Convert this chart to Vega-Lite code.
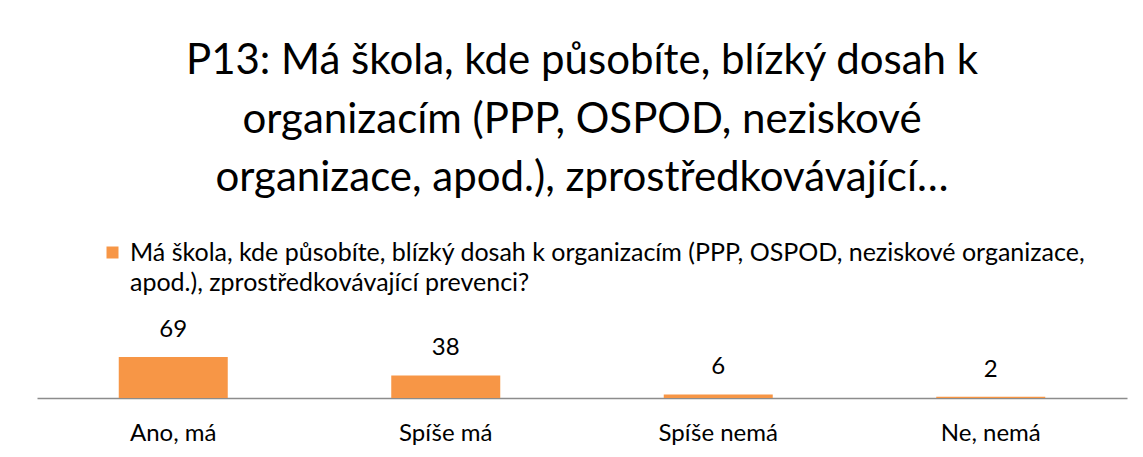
{
  "$schema": "https://vega.github.io/schema/vega-lite/v6.json",
  "autosize": {"type": "none"},
  "width": 1090,
  "height": 41,
  "padding": {"left": 37, "top": 357, "right": 16, "bottom": 59},
  "background": "white",
  "title": {
    "text": ["P13: Má škola, kde působíte, blízký dosah k", "organizacím (PPP, OSPOD, neziskové", "organizace, apod.), zprostředkovávající…"],
    "font": "Lato",
    "fontSize": 42,
    "fontWeight": "normal",
    "color": "black",
    "anchor": "middle",
    "lineHeight": 58.5,
    "offset": 40
  },
  "data": {
    "values": [
      {"odpoved": "Ano, má", "pocet": 69, "serie": "Má škola, kde působíte, blízký dosah k organizacím (PPP, OSPOD, neziskové organizace, apod.), zprostředkovávající prevenci?"},
      {"odpoved": "Spíše má", "pocet": 38, "serie": "Má škola, kde působíte, blízký dosah k organizacím (PPP, OSPOD, neziskové organizace, apod.), zprostředkovávající prevenci?"},
      {"odpoved": "Spíše nemá", "pocet": 6, "serie": "Má škola, kde působíte, blízký dosah k organizacím (PPP, OSPOD, neziskové organizace, apod.), zprostředkovávající prevenci?"},
      {"odpoved": "Ne, nemá", "pocet": 2, "serie": "Má škola, kde působíte, blízký dosah k organizacím (PPP, OSPOD, neziskové organizace, apod.), zprostředkovávající prevenci?"}
    ]
  },
  "encoding": {
    "x": {
      "field": "odpoved",
      "type": "nominal",
      "sort": null,
      "scale": {"paddingInner": 0.6, "paddingOuter": 0.3},
      "axis": {
        "title": null,
        "labelAngle": 0,
        "ticks": false,
        "labelFont": "Lato",
        "labelFontSize": 24,
        "labelColor": "black",
        "labelPadding": 42,
        "labelBaseline": "alphabetic",
        "domainColor": "#8c8c8c",
        "domainWidth": 1.5,
        "grid": false
      }
    },
    "y": {
      "field": "pocet",
      "type": "quantitative",
      "scale": {"domain": [0, 69], "nice": false},
      "axis": null
    }
  },
  "layer": [
    {
      "mark": {"type": "bar", "clip": false},
      "encoding": {
        "color": {
          "field": "serie",
          "type": "nominal",
          "scale": {"range": ["#F79646"]},
          "legend": {
            "title": null,
            "orient": "none",
            "legendX": 63,
            "legendY": -117,
            "symbolType": "square",
            "symbolSize": 144,
            "symbolStrokeWidth": 0,
            "labelFont": "Lato",
            "labelFontSize": 25,
            "labelColor": "black",
            "labelLimit": 0,
            "labelOffset": 5,
            "labelExpr": "split(replace(datum.label, 'organizace, apod.', 'organizace,|apod.'), '|')",
            "encode": {"labels": {"update": {"lineHeight": {"value": 30}}}}
          }
        }
      }
    },
    {
      "mark": {"type": "text", "font": "Lato", "fontSize": 24, "color": "black", "baseline": "alphabetic", "dy": -20},
      "encoding": {"text": {"field": "pocet", "type": "quantitative"}}
    }
  ],
  "config": {"view": {"stroke": null}}
}
